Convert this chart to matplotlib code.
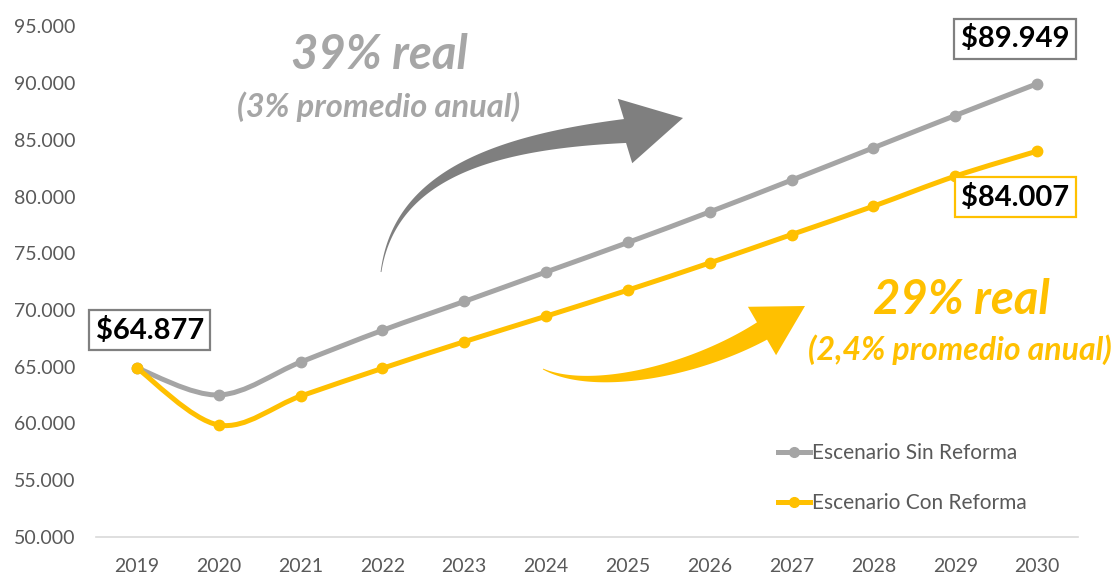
import numpy as np
import matplotlib
matplotlib.use('Agg')
import matplotlib.pyplot as plt
from matplotlib.path import Path
from matplotlib.patches import PathPatch, Polygon
from matplotlib.lines import Line2D
from matplotlib.ticker import FuncFormatter

# datos
anios = ['2019', '2020', '2021', '2022', '2023', '2024',
         '2025', '2026', '2027', '2028', '2029', '2030']
sin_reforma = [64877, 62500, 65400, 68200, 70750, 73350,
               75950, 78650, 81450, 84300, 87150, 89949]
con_reforma = [64877, 59850, 62400, 64850, 67200, 69450,
               71750, 74150, 76650, 79150, 81800, 84007]
series = ['Escenario Sin Reforma', 'Escenario Con Reforma']

GRIS = '#A5A5A5'
AMARILLO = '#FFC000'
TEXTO = '#595959'

plt.rcParams['font.family'] = ['Lato', 'DejaVu Sans']

W, H = 1117, 575
fig = plt.figure(figsize=(W / 100, H / 100), dpi=100)
ax = fig.add_axes([96 / W, 1 - 536.7 / H, (1078 - 96) / W, (536.7 - 26.5) / H])

x = np.arange(len(anios))


# linea suavizada (estilo Excel)
def linea_suave(xs, ys, t=1 / 6):
    pts = np.column_stack([xs, ys]).astype(float)
    n = len(pts)
    verts = [pts[0]]
    codes = [Path.MOVETO]
    for i in range(n - 1):
        p0 = pts[i - 1] if i > 0 else pts[i]
        p1 = pts[i]
        p2 = pts[i + 1]
        p3 = pts[i + 2] if i + 2 < n else pts[i + 1]
        verts += [p1 + (p2 - p0) * t, p2 - (p3 - p1) * t, p2]
        codes += [Path.CURVE4] * 3
    return Path(verts, codes)


for ys, color, lab in [(sin_reforma, GRIS, series[0]), (con_reforma, AMARILLO, series[1])]:
    ax.add_patch(PathPatch(linea_suave(x, ys), facecolor='none', edgecolor=color,
                           lw=3.6, capstyle='round', joinstyle='round'))
    ax.plot(x, ys, 'o', color=color, ms=7.5, zorder=3)

ax.set_xlim(-0.5, len(anios) - 0.5)
ax.set_ylim(50000, 95000)
ax.set_yticks(np.arange(50000, 95001, 5000))
ax.yaxis.set_major_formatter(FuncFormatter(lambda v, p: f'{v:,.0f}'.replace(',', '.')))
ax.set_xticks(x)
ax.set_xticklabels(anios)
ax.tick_params(axis='y', length=0, pad=15, labelsize=14, labelcolor=TEXTO)
ax.tick_params(axis='x', length=0, pad=15, labelsize=14, labelcolor=TEXTO)
for s in ['top', 'right', 'left']:
    ax.spines[s].set_visible(False)
ax.spines['bottom'].set_color('#D9D9D9')
ax.spines['bottom'].set_linewidth(1.2)


# etiquetas con recuadro
def etiqueta(i, ys, dx, dy, borde):
    txt = f'${ys[i]:,.0f}'.replace(',', '.')
    ax.annotate(txt, xy=(x[i], ys[i]), xytext=(dx, dy), textcoords='offset pixels',
                ha='center', va='center', fontsize=21, fontweight='bold', color='black',
                bbox=dict(boxstyle='square,pad=0.22', fc='white', ec=borde, lw=1.6), zorder=5)


etiqueta(0, sin_reforma, 13, 38, '#808080')
etiqueta(-1, sin_reforma, -22, 45, '#808080')
etiqueta(-1, con_reforma, -22, -46, AMARILLO)


# flechas curvas (coordenadas en pixeles de la figura)
def a_fig(p):
    p = np.atleast_2d(p)
    return np.column_stack([p[:, 0] / W, 1 - p[:, 1] / H])


def flecha(p0, c1, c2, p1, punta, ancho_fin, medio_cabeza, color, expo=1.2):
    t = np.linspace(0, 1, 80)[:, None]
    P0, C1, C2, P1 = map(np.array, (p0, c1, c2, p1))
    pts = (1 - t) ** 3 * P0 + 3 * (1 - t) ** 2 * t * C1 + 3 * (1 - t) * t ** 2 * C2 + t ** 3 * P1
    d = 3 * (1 - t) ** 2 * (C1 - P0) + 6 * (1 - t) * t * (C2 - C1) + 3 * t ** 2 * (P1 - C2)
    d = d / np.linalg.norm(d, axis=1)[:, None]
    nrm = np.column_stack([-d[:, 1], d[:, 0]])
    hw = 0.4 + (ancho_fin / 2 - 0.4) * t[:, 0] ** expo
    izq = pts + nrm * hw[:, None]
    der = pts - nrm * hw[:, None]
    dir_p = np.array(punta) - P1
    dir_p = dir_p / np.linalg.norm(dir_p)
    n_p = np.array([-dir_p[1], dir_p[0]])
    # alinear el lado del normal
    if np.dot(n_p, nrm[-1]) < 0:
        n_p = -n_p
    poly = np.vstack([izq, P1 + n_p * medio_cabeza, punta, P1 - n_p * medio_cabeza, der[::-1]])
    fig.patches.append(Polygon(a_fig(poly), closed=True, fc=color, ec='none',
                               transform=fig.transFigure, figure=fig))


flecha((381, 272), (395, 172), (500, 142), (625, 131), (683, 118), 24, 33, '#7F7F7F', 1.3)
flecha((543, 369), (590, 392), (690, 373), (762, 331), (805, 306), 20, 28, AMARILLO, 1.0)

# textos
fig.text(379 / W, 1 - 55 / H, '39% real', ha='center', va='center', fontsize=34,
         fontweight='bold', fontstyle='italic', color='#A6A6A6')
fig.text(379 / W, 1 - 107 / H, '(3% promedio anual)', ha='center', va='center', fontsize=23.5,
         fontweight='bold', fontstyle='italic', color='#A6A6A6')
fig.text(961 / W, 1 - 300 / H, '29% real', ha='center', va='center', fontsize=34,
         fontweight='bold', fontstyle='italic', color=AMARILLO)
fig.text(960 / W, 1 - 350 / H, '(2,4% promedio anual)', ha='center', va='center', fontsize=23,
         fontweight='bold', fontstyle='italic', color=AMARILLO)

# leyenda
handles = [Line2D([0], [0], color=GRIS, lw=3.6, marker='o', ms=7),
           Line2D([0], [0], color=AMARILLO, lw=3.6, marker='o', ms=7)]
fig.legend(handles, series, loc='upper left', bbox_to_anchor=(778 / W, 1 - 443 / H),
           bbox_transform=fig.transFigure, frameon=False, fontsize=15, labelcolor=TEXTO,
           handlelength=1.55, handletextpad=0.1, labelspacing=1.45, borderpad=0,
           borderaxespad=0, numpoints=1)

fig.savefig('out.png', dpi=100)
